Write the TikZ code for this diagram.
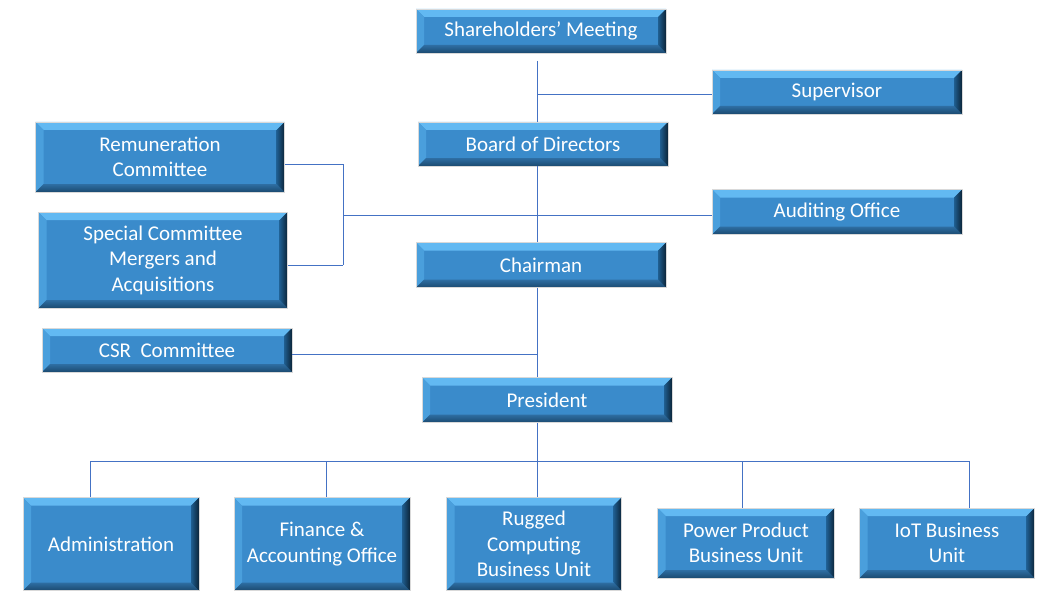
\documentclass[tikz,border=0pt]{standalone}
\usepackage{fontspec}
\setmainfont{Carlito}
\usetikzlibrary{calc}
\definecolor{boxfill}{HTML}{3A8BCB}
\definecolor{bevtopc}{HTML}{62B9F2}
\definecolor{bevleftc}{HTML}{4A9FDC}
\definecolor{bevbotA}{HTML}{2E6EA3}
\definecolor{bevbotB}{HTML}{1B4A70}
\definecolor{bevrA}{HTML}{1F5E90}
\definecolor{bevrB}{HTML}{0B2438}
\definecolor{linec}{HTML}{4472C4}
\tikzset{
  orgbox/.style 2 args={rectangle, fill=boxfill, text=white, align=center,
    inner sep=0pt, minimum width=#1pt, minimum height=#2pt,
    font=\fontsize{21}{25.5}\selectfont,
    path picture={
      \path (path picture bounding box.north west) coordinate (bnw)
            (path picture bounding box.north east) coordinate (bne)
            (path picture bounding box.south east) coordinate (bse)
            (path picture bounding box.south west) coordinate (bsw);
      \fill[bevtopc] (bnw) -- (bne) -- ([shift={(-8pt,-8pt)}]bne) -- ([shift={(8pt,-8pt)}]bnw) -- cycle;
      \fill[bevleftc] (bsw) -- (bnw) -- ([shift={(8pt,-8pt)}]bnw) -- ([shift={(8pt,8pt)}]bsw) -- cycle;
      \shade[top color=bevbotA, bottom color=bevbotB] (bse) -- (bsw) -- ([shift={(8pt,8pt)}]bsw) -- ([shift={(-8pt,8pt)}]bse) -- cycle;
      \shade[left color=bevrA, right color=bevrB] (bne) -- (bse) -- ([shift={(-8pt,8pt)}]bse) -- ([shift={(-8pt,-8pt)}]bne) -- cycle;
    },
    draw=black!15, line width=0.6pt},
  conn/.style={draw=linec, line width=1pt}
}
\begin{document}
\begin{tikzpicture}[x=1pt,y=-1pt]
\useasboundingbox[fill=white] (0,0) rectangle (1046,591);
% nodes
\node[orgbox={250}{44}] (sh)  at (541,31)  {Shareholders’ Meeting};
\node[orgbox={250}{44}] (sup) at (837,92)  {Supervisor};
\node[orgbox={250}{44}] (bod) at (543,144) {Board of Directors};
\node[orgbox={249}{70}] (rem) at (160,157) {Remuneration\\Committee};
\node[orgbox={249}{96}] (spc) at (163,260) {Special Committee\\Mergers and\\Acquisitions};
\node[orgbox={250}{45}] (aud) at (837,212) {Auditing Office};
\node[orgbox={250}{45}] (chm) at (541,265) {Chairman};
\node[orgbox={250}{44}] (csr) at (167,350) {CSR\ \ Committee};
\node[orgbox={250}{45}] (pre) at (547,400) {President};
\node[orgbox={176}{93}] (adm) at (111,544) {Administration};
\node[orgbox={176}{93}] (fin) at (322,544) {Finance \&\\Accounting Office};
\node[orgbox={175}{93}] (rug) at (534,544) {Rugged\\Computing\\Business Unit};
\node[orgbox={177}{70}] (pow) at (746,543) {Power Product\\Business Unit};
\node[orgbox={175}{70}] (iot) at (947,543) {IoT Business\\Unit};
% helper coordinates
\coordinate (spine) at (537,0);
\coordinate (joint) at (343,0);
\coordinate (bus)   at (0,461);
\coordinate (top)   at (537,61);
% spine
\draw[conn] (top) -- (bod.north -| spine);
\draw[conn] (bod.south -| spine) -- (chm.north -| spine);
\draw[conn] (chm.south -| spine) -- (pre.north -| spine);
\draw[conn] (pre.south -| spine) -- (rug.north -| spine);
% supervisor
\draw[conn] ([yshift=-3pt]sup.west) -- ([yshift=-3pt]sup.west -| spine);
% committees
\draw[conn] ([yshift=-7pt]rem.east) -- ([yshift=-7pt]rem.east -| joint);
\draw[conn] ([yshift=-5pt]spc.east) -- ([yshift=-5pt]spc.east -| joint);
\draw[conn] ([yshift=-7pt]rem.east -| joint) -- ([yshift=-5pt]spc.east -| joint);
\draw[conn] ([yshift=-3pt]aud.west -| joint) -- ([yshift=-3pt]aud.west);
% csr
\draw[conn] ([yshift=-4pt]csr.east) -- ([yshift=-4pt]csr.east -| spine);
% bottom bus
\draw[conn] ([xshift=-21pt]adm.north |- bus) -- ([xshift=22pt]iot.north |- bus);
\draw[conn] ([xshift=-21pt]adm.north |- bus) -- ([xshift=-21pt]adm.north);
\draw[conn] ([xshift=4pt]fin.north |- bus) -- ([xshift=4pt]fin.north);
\draw[conn] ([xshift=-4pt]pow.north |- bus) -- ([xshift=-4pt]pow.north);
\draw[conn] ([xshift=22pt]iot.north |- bus) -- ([xshift=22pt]iot.north);
\end{tikzpicture}
\end{document}
